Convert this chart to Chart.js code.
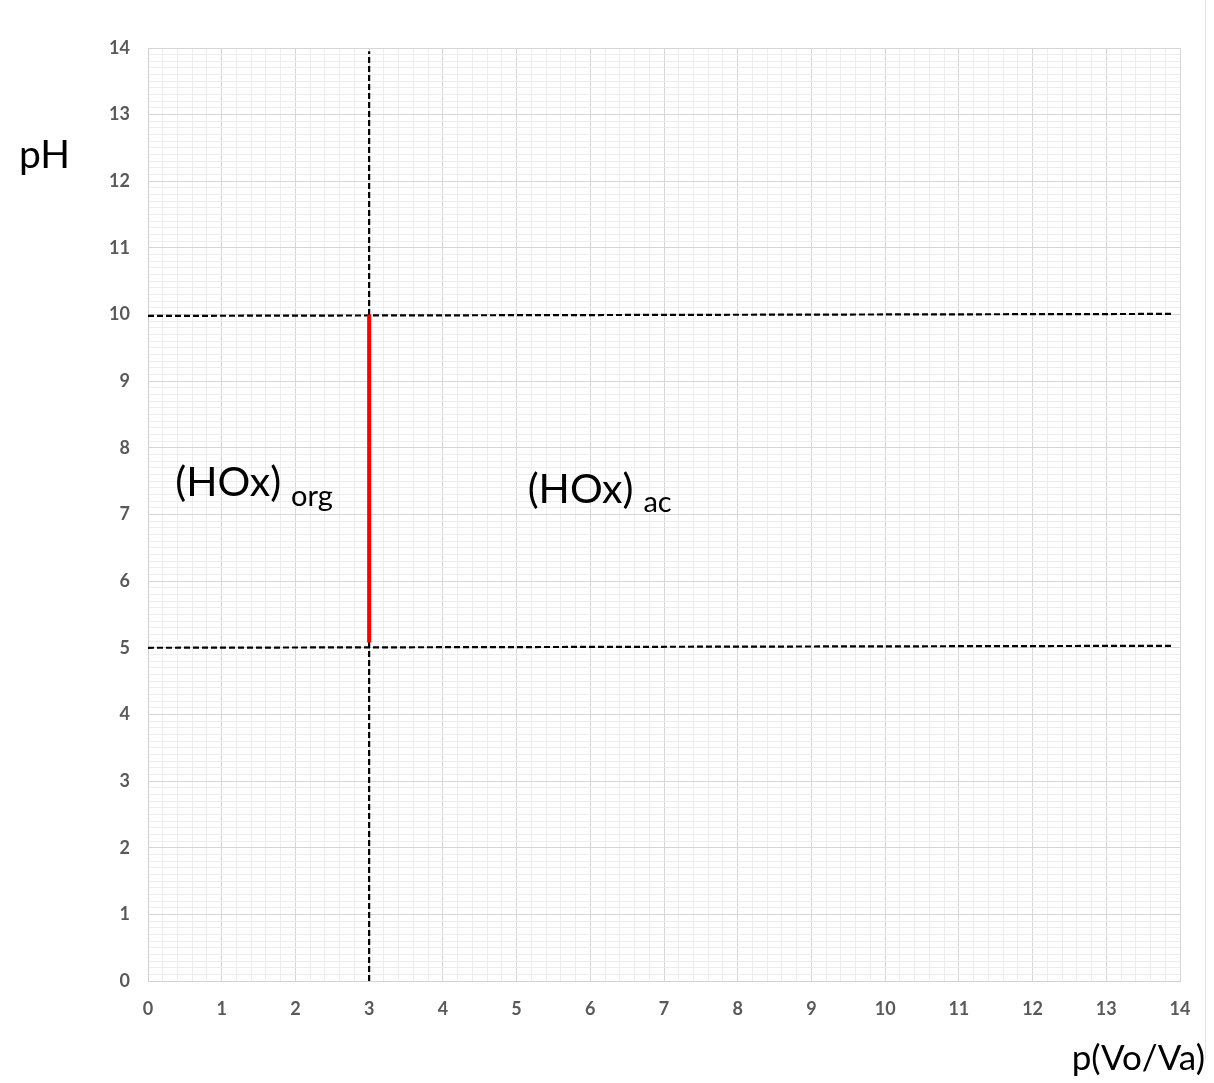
<!DOCTYPE html>
<html>
<head>
<meta charset="utf-8">
<script src="https://cdn.jsdelivr.net/npm/chart.js@4"></script>
<style>
  html, body { margin: 0; padding: 0; background: #fff; }
  #wrap { position: relative; width: 1214px; height: 1083px; }
  #edge { position: absolute; left: 1205px; top: 0; width: 0; height: 1060px; border-left: 1px solid #e4e4e4; }
</style>
</head>
<body>
<div id="wrap">
  <canvas id="chart" width="1214" height="1083"></canvas>
  <div id="edge"></div>
</div>
<script>
// axis ranges
const xMin = 0, xMax = 14;
const yMin = 0, yMax = 14;

// boundary lines (dashed)
const vLineX = [3, 3];
const vLineY = [0, 13.95];
const hLineX = [0, 13.9];
const hLineLowY = [5.0, 5.03];
const hLineHighY = [9.98, 10.01];

// red segment
const redX = [3, 3];
const redY = [5.08, 10];

// region labels
const regionLabels = [
  { main: '(HOx)', sub: 'org', x: 0.37, y: 7.28, gap: 10, drop: 10 },
  { main: '(HOx)', sub: 'ac', x: 5.15, y: 7.17, gap: 10, drop: 9 }
];

const toPts = (xs, ys) => xs.map((x, i) => ({ x: x, y: ys[i] }));
const isInt = v => Math.abs(v - Math.round(v)) < 1e-6;

const dashed = (data) => ({
  data: data,
  showLine: true,
  borderColor: '#000',
  borderWidth: 2.2,
  borderDash: [6, 3],
  pointRadius: 0,
  fill: false,
  order: 2
});

const textPlugin = {
  id: 'texts',
  afterDraw(chart) {
    const ctx = chart.ctx;
    const xs = chart.scales.x, ys = chart.scales.y;
    ctx.save();
    ctx.fillStyle = '#000';
    ctx.textBaseline = 'alphabetic';
    regionLabels.forEach(l => {
      const px = xs.getPixelForValue(l.x);
      const py = ys.getPixelForValue(l.y);
      ctx.font = '41px Lato';
      ctx.textAlign = 'left';
      ctx.fillText(l.main, px, py);
      const w = ctx.measureText(l.main).width;
      ctx.font = '29px Lato';
      ctx.fillText(l.sub, px + w + l.gap, py + l.drop);
    });
    // axis titles
    ctx.font = '39px Lato';
    ctx.textAlign = 'left';
    ctx.fillText('pH', 19, 168);
    ctx.font = '35px Lato';
    ctx.textAlign = 'right';
    ctx.fillText('p(Vo/Va)', 1205, 1070);
    ctx.restore();
  }
};

new Chart(document.getElementById('chart'), {
  type: 'scatter',
  data: {
    datasets: [
      {
        data: toPts(redX, redY),
        showLine: true,
        borderColor: '#ff0000',
        borderWidth: 4,
        pointRadius: 0,
        fill: false,
        order: 1
      },
      dashed(toPts(vLineX, vLineY)),
      dashed(toPts(hLineX, hLineHighY)),
      dashed(toPts(hLineX, hLineLowY))
    ]
  },
  options: {
    responsive: false,
    animation: false,
    layout: { padding: { left: 0, top: 48, right: 34, bottom: 0 } },
    plugins: { legend: { display: false }, tooltip: { enabled: false } },
    scales: {
      x: {
        type: 'linear',
        min: xMin, max: xMax,
        afterFit: s => { s.height = 102; },
        border: { color: '#d0d0d0', width: 1 },
        grid: {
          drawTicks: false,
          color: c => isInt(c.tick.value) ? '#d6d6d6' : '#ededed',
          lineWidth: 1
        },
        ticks: {
          stepSize: 0.2,
          autoSkip: false,
          maxRotation: 0,
          padding: 17,
          color: '#595959',
          font: { family: 'Lato', size: 18, weight: 'bold' },
          callback: v => isInt(v) ? String(Math.round(v)) : ''
        }
      },
      y: {
        type: 'linear',
        min: yMin, max: yMax,
        afterFit: s => { s.width = 148; },
        border: { color: '#d0d0d0', width: 1 },
        grid: {
          drawTicks: false,
          color: c => isInt(c.tick.value) ? '#d6d6d6' : '#ededed',
          lineWidth: 1
        },
        ticks: {
          stepSize: 0.1,
          autoSkip: false,
          padding: 18,
          color: '#595959',
          font: { family: 'Lato', size: 18, weight: 'bold' },
          callback: v => isInt(v) ? String(Math.round(v)) : ''
        }
      }
    }
  },
  plugins: [textPlugin]
});
</script>
</body>
</html>
